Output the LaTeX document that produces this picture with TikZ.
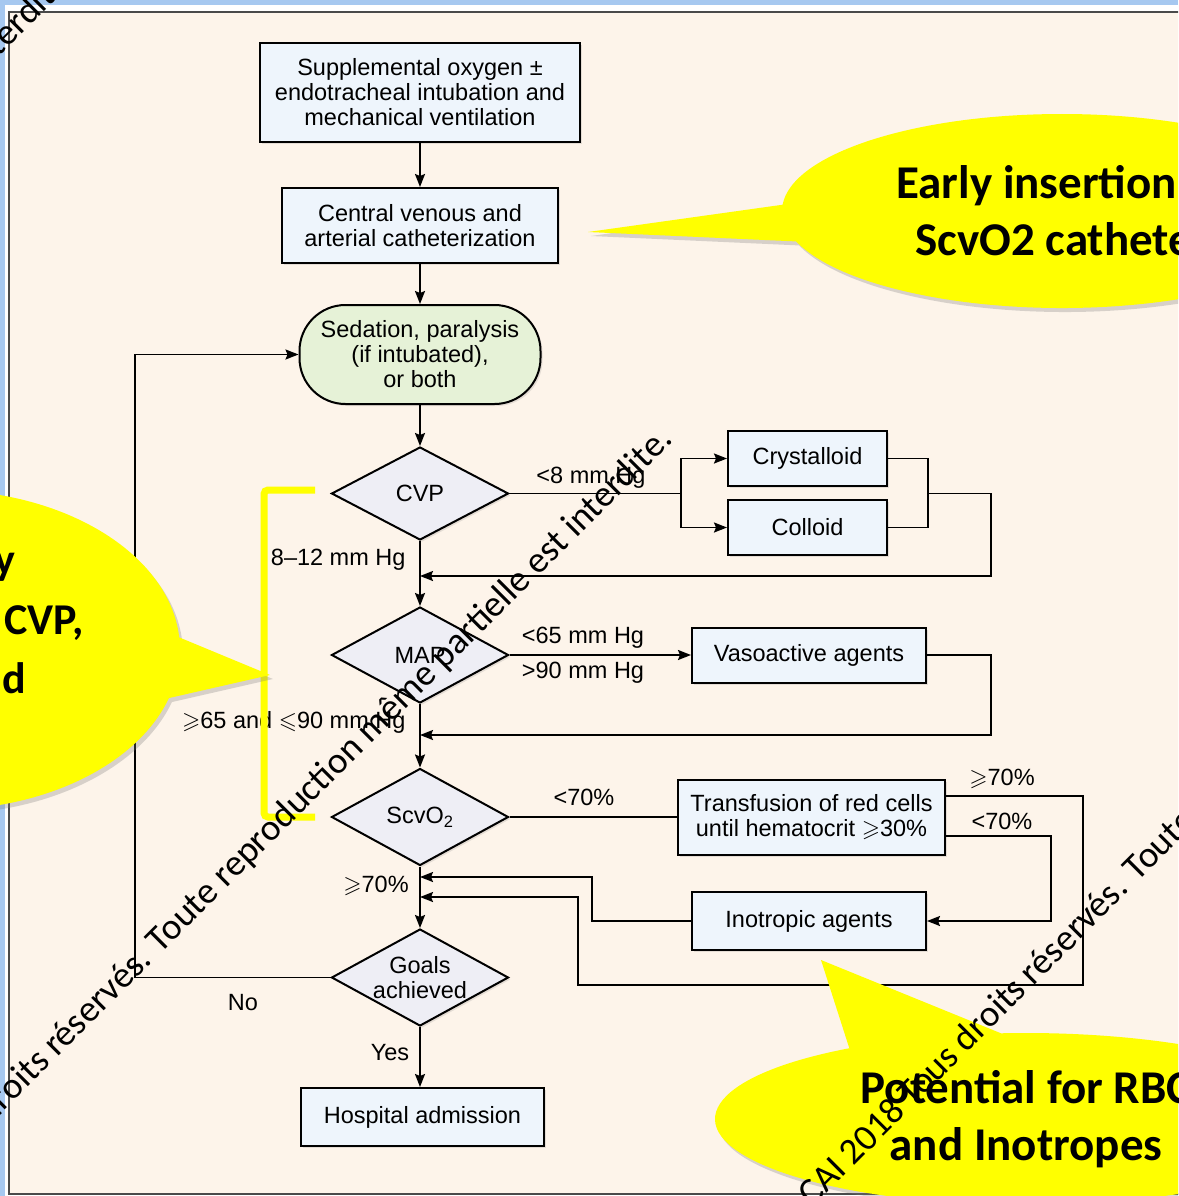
\documentclass[tikz,border=0pt]{standalone}
\usepackage{amssymb}
\usepackage{fontspec}
\setmainfont{Liberation Sans}
\newfontfamily\calloutfont{Carlito}
\usetikzlibrary{arrows.meta,shapes.geometric,shapes.callouts,shadows}

\definecolor{slideblue}{HTML}{A6C8F0}
\definecolor{panel}{HTML}{FDF4EA}
\definecolor{frame}{HTML}{4A4A4A}
\definecolor{boxblue}{HTML}{EEF5FC}
\definecolor{decgrey}{HTML}{EEEEF5}
\definecolor{sedgreen}{HTML}{E6F2D7}
\definecolor{callyellow}{HTML}{FFFF00}

\tikzset{
  flow/.style={font=\fontsize{23.5}{25}\selectfont},
  box/.style={draw, fill=boxblue, line width=2pt, align=center, inner sep=0pt, flow,
    drop shadow={shadow xshift=2pt, shadow yshift=-2pt, opacity=0.2}},
  dec/.style={diamond, draw, fill=decgrey, line width=2pt, inner sep=0pt,
    drop shadow={shadow xshift=2pt, shadow yshift=-2pt, opacity=0.2}},
  line/.style={line width=1.8pt},
  arr/.style={line, -{Stealth[length=13pt, width=10pt, inset=2pt]}},
  bubble/.style={ellipse callout, fill=callyellow, align=center, inner sep=0pt,
    font=\calloutfont\bfseries\fontsize{47}{57}\selectfont,
    drop shadow={shadow xshift=3pt, shadow yshift=-4pt, opacity=0.3}},
  bubbletext/.style={font=\calloutfont\bfseries\fontsize{44}{54}\selectfont, inner sep=0pt},
  wmark/.style={font=\calloutfont\fontsize{37}{40}\selectfont, rotate=45, inner sep=0pt}
}

\begin{document}
\begin{tikzpicture}[x=1pt, y=-1pt]
  \useasboundingbox (0,0) rectangle (1178,1196);
  \clip (0,0) rectangle (1178,1196);

  % slide and panel
  \fill[slideblue] (0,0) rectangle (1178,1196);
  \fill[white] (5,5) rectangle (1190,1210);
  \draw[frame, line width=2.5pt, fill=panel] (9,12) rectangle (1190,1194);

  % main column
  \node[box, minimum width=320pt, minimum height=99pt] (oxy) at (420,92.5)
    {Supplemental oxygen ±\\endotracheal intubation and\\mechanical ventilation};
  \node[box, minimum width=276pt, minimum height=75pt] (cath) at (420,225.5)
    {Central venous and\\arterial catheterization};
  \node[box, fill=sedgreen, rounded corners=46pt, minimum width=241pt, minimum height=99pt] (sed) at (420,354.5)
    {Sedation, paralysis\\(if intubated),\\or both};
  \node[dec, minimum width=177pt, minimum height=93pt, label={[name=cvptext, flow]center:CVP}] (cvp) at (420,493.5) {};
  \node[dec, minimum width=177pt, minimum height=96pt, label={[name=maptext, flow]center:MAP}] (map) at (420,655) {};
  \node[dec, minimum width=177pt, minimum height=97pt, label={[name=scvtext, flow]center:ScvO\textsubscript{2}}] (scvo) at (420,817) {};
  \node[dec, minimum width=177pt, minimum height=97pt, label={[name=goaltext, flow, align=center]center:Goals\\achieved}] (goals) at (420,977.5) {};
  \node[box, minimum width=243pt, minimum height=58pt] (hosp) at (422.5,1117) {Hospital admission};

  % therapies
  \node[box, minimum width=159pt, minimum height=55pt] (cryst) at (807.5,458.5) {Crystalloid};
  \node[box, minimum width=159pt, minimum height=55pt] (coll) at (807.5,527.5) {Colloid};
  \node[box, minimum width=234pt, minimum height=55pt] (vaso) at (809,655) {Vasoactive agents};
  \node[box, minimum width=267pt, minimum height=75pt] (transf) at (811.5,817)
    {Transfusion of red cells\\until hematocrit $\geqslant$30\%};
  \node[box, minimum width=234pt, minimum height=58pt] (inot) at (809,921) {Inotropic agents};

  \coordinate (fluidin) at (681,493.5);
  \coordinate (fluidout) at (928,493.5);
  \coordinate (mergeA) at (420,576);
  \coordinate (mergeB) at (420,735);
  \coordinate (mergeC) at (420,877);
  \coordinate (mergeD) at (420,897);

  % connectors
  \draw[arr] (oxy.south) -- (cath.north);
  \draw[arr] (cath.south) -- (sed.north);
  \draw[arr] (sed.south) -- (cvp.north);
  \draw[line] (cvp.east) -- (fluidin);
  \draw[arr] (fluidin) |- (cryst.west);
  \draw[arr] (fluidin) |- (coll.west);
  \draw[line] (cryst.east) -| (fluidout) |- (coll.east);
  \draw[arr] (fluidout) -- (991,493.5) |- (mergeA);
  \draw[arr] (cvp.south) -- (map.north);
  \draw[arr] (map.east) -- (vaso.west);
  \draw[arr] (vaso.east) -- (991,655) |- (mergeB);
  \draw[arr] (map.south) -- (scvo.north);
  \draw[line] (scvo.east) -- (transf.west);
  \draw[arr] ([yshift=21pt]transf.east) -- (1083,796) |- (578,985) |- (mergeD);
  \draw[arr] ([yshift=-19pt]transf.east) -- (1051,836) |- (inot.east);
  \draw[arr] (inot.west) -- (592,921) |- (mergeC);
  \draw[arr] (scvo.south) -- (goals.north);
  \draw[arr] (goals.west) -- (135,977.5) |- (sed.west);
  \draw[arr] (goals.south) -- (goals.south |- hosp.north);

  % labels
  \node[flow] (lt8) at (591,478) {<8 mm Hg};
  \node[flow, anchor=east] (mid12) at (409,560) {8–12 mm Hg};
  \node[flow] (lt65) at (583,638) {<65 mm Hg};
  \node[flow] (gt90) at (583,673) {>90 mm Hg};
  \node[flow, anchor=east] (midmap) at (409,722) {$\geqslant$65 and $\leqslant$90 mm Hg};
  \node[flow] (lt70) at (584,797) {<70\%};
  \node[flow] (ge70r) at (1002,779) {$\geqslant$70\%};
  \node[flow] (lt70r) at (1002,821) {<70\%};
  \node[flow] (ge70l) at (376,886) {$\geqslant$70\%};
  \node[flow] (no) at (243,1003) {No};
  \node[flow] (yes) at (390,1053) {Yes};

  % highlight
  \draw[callyellow, line width=7pt, rounded corners=4pt] (315,490) -- (264,490) -- (264,817) -- (315,817);

  % callouts
  \node[bubble, minimum width=560pt, minimum height=194pt, callout absolute pointer={(588,232)},
    callout pointer arc=22] (early) at (1062,211) {Early insertion of\\ScvO2 catheter};
  \node[bubble, minimum width=622pt, minimum height=172pt, callout absolute pointer={(821,960)},
    callout pointer arc=30] (potential) at (1026,1119) {Potential for RBC\\and Inotropes};
  \node[bubble, minimum width=480pt, minimum height=320pt, callout absolute pointer={(270,675)},
    callout pointer arc=22] (monitor) at (-60,650) {};
  \node[bubbletext, anchor=east] (montop) at (16,567) {y};
  \node[bubbletext, anchor=east] (monmid) at (84,623) {CVP,};
  \node[bubbletext, anchor=east] (monbot) at (26,678) {d};

  % watermark
  \node[wmark, anchor=base east] (wmA) at (674,441)
    {Tous droits réservés. Toute reproduction même partielle est interdite.};
  \node[wmark, anchor=base west] (wmB) at (812,1208) {CAI 2018 Tous droits réservés. Toute};
  \node[wmark, anchor=base east] (wmC) at (77,-21) {interdite.};
\end{tikzpicture}
\end{document}
